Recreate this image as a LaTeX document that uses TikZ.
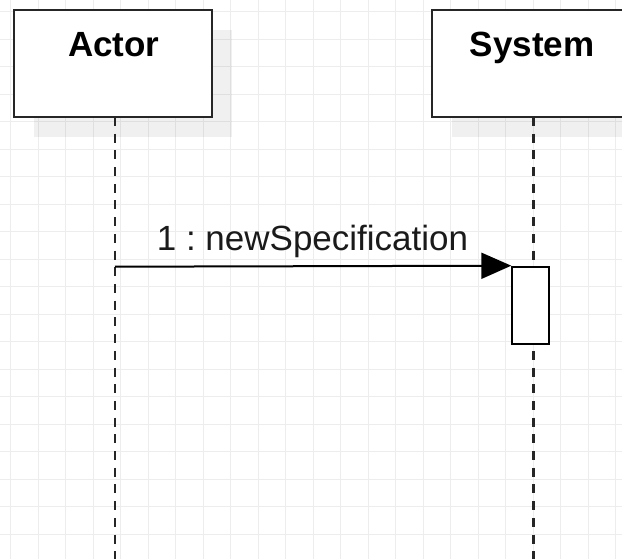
\documentclass[tikz,border=0pt]{standalone}
\usepackage{fontspec}
\setmainfont{Liberation Sans}
\usetikzlibrary{arrows.meta,shadows}
\definecolor{gridc}{HTML}{EDEDED}
\definecolor{txtc}{HTML}{1A1A1A}
\tikzset{
  gridline/.style={draw=gridc, line width=1pt},
  header/.style={draw=black!85, line width=2.4pt, fill=white, minimum width=198pt, minimum height=107pt, inner sep=0pt,
    drop shadow={shadow xshift=20pt, shadow yshift=-20pt, fill=black, opacity=0.06}},
  headtxt/.style={font=\fontsize{35}{42}\selectfont\bfseries, text=black, anchor=base, inner sep=0pt},
  lifeline/.style={draw=black!85, line width=2.5pt, dash pattern=on 9pt off 7.7pt},
  actbox/.style={draw=black, line width=2pt, fill=white, minimum width=36.4pt, minimum height=77.6pt, inner sep=0pt},
  msg/.style={draw=black, line width=2pt, -{Triangle[length=30pt, width=26pt]}},
  msgtxt/.style={font=\fontsize{35}{42}\selectfont\frenchspacing, text=txtc, anchor=base, inner sep=0pt}
}
\begin{document}
\begin{tikzpicture}[x=1pt, y=-1pt]
\useasboundingbox (0,0) rectangle (622,559);
\clip (0,0) rectangle (622,559);
% grid
\foreach \i in {0,...,22} { \draw[gridline] ({10.8+27.5*\i},0) -- ({10.8+27.5*\i},559); }
\foreach \j in {0,...,19} { \draw[gridline] (0,{11.7+27.5*\j}) -- (622,{11.7+27.5*\j}); }
% headers
\node[header] (actor) at (113,63.5) {};
\node[header] (system) at (531,63.5) {};
\node[headtxt] (actortxt) at (113.8,57) {Actor};
\node[headtxt] (systemtxt) at (532,57) {System};
% lifelines
\coordinate (actortop) at (115,117);
\coordinate (actorend) at (115,562);
\coordinate (systop) at (533.3,117);
\coordinate (sysend) at (533.3,562);
\draw[lifeline] (actortop) -- (actorend);
\draw[lifeline] (systop) -- (sysend);
% activation
\node[actbox] (act) at (530.5,305.5) {};
% message
\coordinate (msgstart) at (115,266.7);
\draw[msg] (msgstart) -- (act.north west);
\node[msgtxt] (msglbl) at (312.5,250.5) {1 : newSpecification};
\end{tikzpicture}
\end{document}
